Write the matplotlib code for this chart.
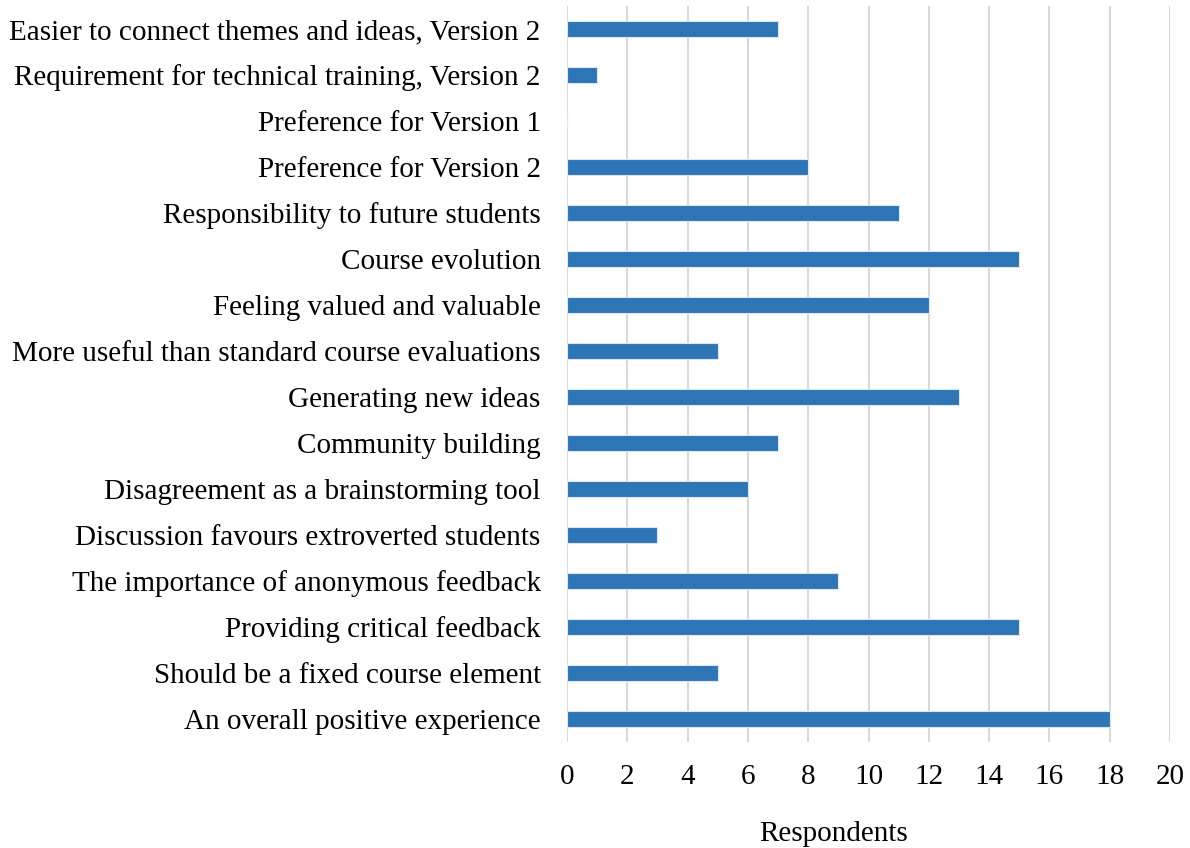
import matplotlib.pyplot as plt

plt.rcParams['font.family'] = ['Liberation Serif', 'DejaVu Serif']

categories = [
    "An overall positive experience",
    "Should be a fixed course element",
    "Providing critical feedback",
    "The importance of anonymous feedback",
    "Discussion favours extroverted students",
    "Disagreement as a brainstorming tool",
    "Community building",
    "Generating new ideas",
    "More useful than standard course evaluations",
    "Feeling valued and valuable",
    "Course evolution",
    "Responsibility to future students",
    "Preference for Version 2",
    "Preference for Version 1",
    "Requirement for technical training, Version 2",
    "Easier to connect themes and ideas, Version 2",
]
respondents = [18, 5, 15, 9, 3, 6, 7, 13, 5, 12, 15, 11, 8, 0, 1, 7]
xticks = list(range(0, 21, 2))

fig = plt.figure(figsize=(11.9, 8.48), dpi=100)
ax = fig.add_axes([0.4765, 0.125, 0.5067, 0.868])

ax.barh(range(len(categories)), respondents, height=0.35, color='#2E75B6',
        edgecolor='#DCE6F2', linewidth=0.8, zorder=3)

ax.set_xlim(0, 20)
ax.set_ylim(-0.5, len(categories) - 0.5)
ax.set_xticks(xticks)
ax.set_yticks(range(len(categories)))
ax.set_yticklabels(categories, fontsize=21)
ax.tick_params(axis='x', labelsize=21, length=0, pad=16)
ax.tick_params(axis='y', length=0, pad=19)
ax.grid(axis='x', color='#D9D9D9', linewidth=1.5, zorder=0)
for s in ax.spines.values():
    s.set_visible(False)

fig.text(834 / 1190, 1 - 834 / 848, "Respondents", fontsize=21,
         ha='center', va='center')

fig.savefig("out.png", dpi=100)
